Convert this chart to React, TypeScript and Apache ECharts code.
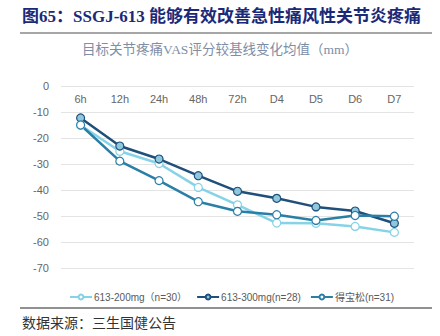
import React, { useEffect, useRef } from "react";
import * as echarts from "echarts";

const categories = ["6h", "12h", "24h", "48h", "72h", "D4", "D5", "D6", "D7"];
const s200 = [-15.1, -25.1, -29.8, -39.0, -45.7, -52.7, -52.8, -54.0, -56.3];
const s300 = [-12.3, -23.1, -28.1, -34.5, -40.5, -43.2, -46.5, -48.1, -52.8];
const sDbs = [-15.0, -28.9, -36.4, -44.5, -48.2, -49.5, -51.7, -49.8, -50.1];
const seriesNames = ["613-200mg（n=30）", "613-300mg(n=28)", "得宝松(n=31)"];
const yTicks = { min: -70, max: 0, interval: 10 };

const title = "图65：SSGJ-613 能够有效改善急性痛风性关节炎疼痛";
const subtitle = "目标关节疼痛VAS评分较基线变化均值（mm）";
const source = "数据来源：三生国健公告";

export default function App() {
  const ref = useRef<HTMLDivElement>(null);
  useEffect(() => {
    const chart = echarts.init(ref.current!, null, { renderer: "svg" });
    const mk = (name: string, data: number[], line: string, fill: string) => ({
      name,
      type: "line",
      data,
      symbol: "circle",
      symbolSize: 8,
      lineStyle: { color: line, width: 2.5 },
      itemStyle: { color: fill, borderColor: line, borderWidth: 1.2 },
      color: line,
    });
    chart.setOption({
      animation: false,
      backgroundColor: "#fff",
      grid: { left: 61, right: 26, top: 86, bottom: 68 },
      xAxis: {
        type: "category",
        data: categories,
        position: "top",
        axisLine: { show: false },
        axisTick: { show: false },
        axisLabel: { inside: true, margin: 7, color: "#666", fontSize: 11, fontFamily: "Liberation Sans" },
      },
      yAxis: {
        type: "value",
        min: yTicks.min,
        max: yTicks.max,
        interval: yTicks.interval,
        axisLine: { show: false },
        axisTick: { show: false },
        axisLabel: { color: "#666", fontSize: 11, margin: 12, fontFamily: "Liberation Sans" },
        splitLine: { lineStyle: { color: "#e4e4e4", width: 1 } },
      },
      legend: {
        top: 287,
        left: 64,
        width: 400,
        itemWidth: 22,
        itemHeight: 6,
        itemGap: 9,
        textStyle: { color: "#595959", fontSize: 10, fontFamily: "Liberation Sans, Noto Sans CJK SC", padding: [0, 0, 0, -3] },
        data: seriesNames,
      },
      series: [
        mk(seriesNames[0], s200, "#86d2e6", "#ffffff"),
        mk(seriesNames[1], s300, "#1f4f7a", "#8fc8dc"),
        mk(seriesNames[2], sDbs, "#2a7fa6", "#ffffff"),
      ],
      graphic: [
        {
          type: "text",
          left: 22,
          top: 8,
          style: {
            text: title,
            fill: "#1b2a78",
            font: "bold 17px 'Liberation Serif', 'Noto Sans CJK SC'",
          },
        },
        { type: "line", shape: { x1: 20, y1: 33, x2: 432, y2: 33 }, style: { stroke: "#888", lineWidth: 1.5 } },
        {
          type: "text",
          left: "center",
          top: 43,
          style: {
            text: subtitle,
            fill: "#7d8ea8",
            font: "13.5px 'Liberation Serif', 'Noto Sans CJK SC'",
          },
        },
        { type: "line", shape: { x1: 20, y1: 308, x2: 432, y2: 308 }, style: { stroke: "#222", lineWidth: 1 } },
        {
          type: "text",
          left: 22,
          top: 316,
          style: {
            text: source,
            fill: "#333",
            font: "14px 'Liberation Serif', 'Noto Sans CJK SC'",
          },
        },
      ],
    });
    return () => chart.dispose();
  }, []);
  return <div ref={ref} style={{ width: 440, height: 336, position: "absolute", left: 0, top: 0 }} />;
}
